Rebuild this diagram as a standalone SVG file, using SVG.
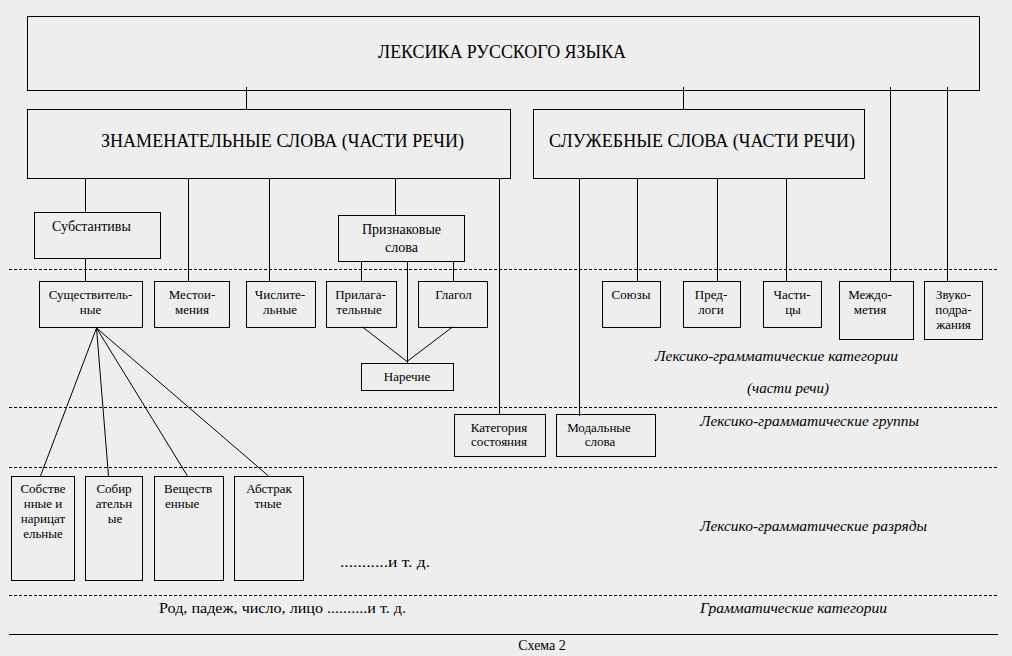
<svg xmlns="http://www.w3.org/2000/svg" width="1012" height="656" viewBox="0 0 1012 656">
<rect x="0" y="0" width="1012" height="656" fill="#eeeeee"/>

<g id="levels">
<g stroke="#000" stroke-width="1" stroke-dasharray="3,2" fill="none">
<line x1="9" y1="269.5" x2="999" y2="269.5"/>
<line x1="9" y1="407.5" x2="999" y2="407.5"/>
<line x1="9" y1="467.5" x2="999" y2="467.5"/>
<line x1="9" y1="595.5" x2="999" y2="595.5"/>
</g>
<line x1="9" y1="634.5" x2="998" y2="634.5" stroke="#000" stroke-width="1"/>
<text font-family="Liberation Serif, serif" font-size="15" font-style="italic" x="655" y="361" textLength="243" lengthAdjust="spacingAndGlyphs">Лексико-грамматические категории</text>
<text font-family="Liberation Serif, serif" font-size="15" font-style="italic" x="747" y="393" textLength="82" lengthAdjust="spacingAndGlyphs">(части речи)</text>
<text font-family="Liberation Serif, serif" font-size="15" font-style="italic" x="700" y="426" textLength="219" lengthAdjust="spacingAndGlyphs">Лексико-грамматические группы</text>
<text font-family="Liberation Serif, serif" font-size="15" font-style="italic" x="700" y="531" textLength="227" lengthAdjust="spacingAndGlyphs">Лексико-грамматические разряды</text>
<text font-family="Liberation Serif, serif" font-size="15" font-style="italic" x="700" y="613" textLength="187" lengthAdjust="spacingAndGlyphs">Грамматические категории</text>
<text font-family="Liberation Serif, serif" font-size="14" x="340" y="567" textLength="90" lengthAdjust="spacingAndGlyphs">...........и т. д.</text>
<text font-family="Liberation Serif, serif" font-size="15" x="159" y="613" textLength="247" lengthAdjust="spacingAndGlyphs">Род, падеж, число, лицо ..........и т. д.</text>
<text font-family="Liberation Serif, serif" font-size="14" x="542" y="650" text-anchor="middle">Схема 2</text>
</g>

<g id="connectors" stroke="#000" stroke-width="1" fill="none">
<line x1="246.5" y1="87" x2="246.5" y2="109"/>
<line x1="683.5" y1="87" x2="683.5" y2="109"/>
<line x1="890.5" y1="87" x2="890.5" y2="281"/>
<line x1="947.5" y1="87" x2="947.5" y2="281"/>
<line x1="85.5" y1="178" x2="85.5" y2="212"/>
<line x1="85.5" y1="258" x2="85.5" y2="281"/>
<line x1="188.5" y1="178" x2="188.5" y2="281"/>
<line x1="269.5" y1="178" x2="269.5" y2="281"/>
<line x1="395.5" y1="178" x2="395.5" y2="215"/>
<line x1="499.5" y1="178" x2="499.5" y2="414"/>
<line x1="579.5" y1="178" x2="579.5" y2="416"/>
<line x1="637.5" y1="178" x2="637.5" y2="281"/>
<line x1="717.5" y1="178" x2="717.5" y2="281"/>
<line x1="786.5" y1="178" x2="786.5" y2="281"/>
<line x1="361.5" y1="261" x2="361.5" y2="281"/>
<line x1="407.5" y1="261" x2="407.5" y2="363"/>
<line x1="453.5" y1="261" x2="453.5" y2="281"/>
<line x1="362.5" y1="327" x2="407" y2="361.5"/>
<line x1="452.5" y1="327" x2="407" y2="361.5"/>
<line x1="96.5" y1="328" x2="40.5" y2="476"/>
<line x1="96.5" y1="328" x2="108.5" y2="476"/>
<line x1="96.5" y1="328" x2="187.5" y2="476"/>
<line x1="96.5" y1="328" x2="268.5" y2="476"/>
</g>

<g id="nodes">
<g fill="none" stroke="#000" stroke-width="1">
<rect id="b-leksika" x="27.5" y="16.5" width="952" height="74"/>
<rect id="b-znam" x="27.5" y="109.5" width="483" height="69"/>
<rect id="b-sluzh" x="533.5" y="109.5" width="331" height="69"/>
<rect id="b-subst" x="34.5" y="212.5" width="126" height="46"/>
<rect id="b-priznak" x="338.5" y="215.5" width="126" height="46"/>
<rect id="b-sushch" x="39.5" y="281.5" width="103" height="46"/>
<rect id="b-mest" x="154.5" y="281.5" width="75" height="46"/>
<rect id="b-chisl" x="246.5" y="281.5" width="69" height="46"/>
<rect id="b-prilag" x="326.5" y="281.5" width="70" height="46"/>
<rect id="b-glagol" x="418.5" y="281.5" width="69" height="46"/>
<rect id="b-narech" x="361.5" y="363.5" width="92" height="27"/>
<rect id="b-soyuzy" x="602.5" y="281.5" width="58" height="46"/>
<rect id="b-predlogi" x="683.5" y="281.5" width="57" height="46"/>
<rect id="b-chastitsy" x="763.5" y="281.5" width="58" height="46"/>
<rect id="b-mezhd" x="839.5" y="281.5" width="74" height="58"/>
<rect id="b-zvuk" x="924.5" y="281.5" width="58" height="58"/>
<rect id="b-katsost" x="454.5" y="414.5" width="91" height="42"/>
<rect id="b-modal" x="556.5" y="414.5" width="99" height="42"/>
<rect id="b-sobstv" x="11.5" y="476.5" width="63" height="104"/>
<rect id="b-sobir" x="85.5" y="476.5" width="57" height="104"/>
<rect id="b-veshch" x="154.5" y="476.5" width="69" height="104"/>
<rect id="b-abstr" x="234.5" y="476.5" width="69" height="104"/>
</g>
<g id="n-leksika">
<text font-family="Liberation Serif, serif" font-size="18" x="378" y="58" textLength="248" lengthAdjust="spacingAndGlyphs">ЛЕКСИКА РУССКОГО ЯЗЫКА</text>
</g>
<g id="n-znam">
<text font-family="Liberation Serif, serif" font-size="19" x="101" y="147" textLength="363" lengthAdjust="spacingAndGlyphs">ЗНАМЕНАТЕЛЬНЫЕ СЛОВА (ЧАСТИ РЕЧИ)</text>
</g>
<g id="n-sluzh">
<text font-family="Liberation Serif, serif" font-size="19" x="549" y="147" textLength="306" lengthAdjust="spacingAndGlyphs">СЛУЖЕБНЫЕ СЛОВА (ЧАСТИ РЕЧИ)</text>
</g>
<g id="n-subst">
<text font-family="Liberation Serif, serif" font-size="14" text-anchor="middle" x="91.5" y="231">Субстантивы</text>
</g>
<g id="n-priznak">
<text font-family="Liberation Serif, serif" font-size="14" text-anchor="middle" x="401.5" y="234">Признаковые</text>
<text font-family="Liberation Serif, serif" font-size="14" text-anchor="middle" x="401.5" y="252">слова</text>
</g>
<g id="n-sushch">
<text font-family="Liberation Serif, serif" font-size="13" text-anchor="middle" x="90.5" y="299">Существитель-</text>
<text font-family="Liberation Serif, serif" font-size="13" text-anchor="middle" x="90.5" y="314">ные</text>
</g>
<g id="n-mest">
<text font-family="Liberation Serif, serif" font-size="13" text-anchor="middle" x="192" y="299">Местои-</text>
<text font-family="Liberation Serif, serif" font-size="13" text-anchor="middle" x="192" y="314">мения</text>
</g>
<g id="n-chisl">
<text font-family="Liberation Serif, serif" font-size="13" text-anchor="middle" x="280" y="299">Числите-</text>
<text font-family="Liberation Serif, serif" font-size="13" text-anchor="middle" x="280" y="314">льные</text>
</g>
<g id="n-prilag">
<text font-family="Liberation Serif, serif" font-size="13" text-anchor="middle" x="360.5" y="299">Прилага-</text>
<text font-family="Liberation Serif, serif" font-size="13" text-anchor="middle" x="359" y="314">тельные</text>
</g>
<g id="n-glagol">
<text font-family="Liberation Serif, serif" font-size="13" text-anchor="middle" x="453.5" y="299">Глагол</text>
</g>
<g id="n-narech">
<text font-family="Liberation Serif, serif" font-size="13" text-anchor="middle" x="407" y="381">Наречие</text>
</g>
<g id="n-soyuzy">
<text font-family="Liberation Serif, serif" font-size="13" text-anchor="middle" x="631" y="299">Союзы</text>
</g>
<g id="n-predlogi">
<text font-family="Liberation Serif, serif" font-size="13" text-anchor="middle" x="711" y="299">Пред-</text>
<text font-family="Liberation Serif, serif" font-size="13" text-anchor="middle" x="711" y="314">логи</text>
</g>
<g id="n-chastitsy">
<text font-family="Liberation Serif, serif" font-size="13" text-anchor="middle" x="792" y="299">Части-</text>
<text font-family="Liberation Serif, serif" font-size="13" text-anchor="middle" x="793" y="314">цы</text>
</g>
<g id="n-mezhd">
<text font-family="Liberation Serif, serif" font-size="13" text-anchor="middle" x="870" y="299">Междо-</text>
<text font-family="Liberation Serif, serif" font-size="13" text-anchor="middle" x="870" y="314">метия</text>
</g>
<g id="n-zvuk">
<text font-family="Liberation Serif, serif" font-size="13" text-anchor="middle" x="953.5" y="299">Звуко-</text>
<text font-family="Liberation Serif, serif" font-size="13" text-anchor="middle" x="953.5" y="314">подра-</text>
<text font-family="Liberation Serif, serif" font-size="13" text-anchor="middle" x="953.5" y="329">жания</text>
</g>
<g id="n-katsost">
<text font-family="Liberation Serif, serif" font-size="13" text-anchor="middle" x="499" y="432">Категория</text>
<text font-family="Liberation Serif, serif" font-size="13" text-anchor="middle" x="499" y="446">состояния</text>
</g>
<g id="n-modal">
<text font-family="Liberation Serif, serif" font-size="13" text-anchor="middle" x="599" y="432">Модальные</text>
<text font-family="Liberation Serif, serif" font-size="13" text-anchor="middle" x="600" y="446">слова</text>
</g>
<g id="n-sobstv">
<text font-family="Liberation Serif, serif" font-size="13" text-anchor="middle" x="43" y="493">Собстве</text>
<text font-family="Liberation Serif, serif" font-size="13" text-anchor="middle" x="43" y="508">нные и</text>
<text font-family="Liberation Serif, serif" font-size="13" text-anchor="middle" x="43" y="523">нарицат</text>
<text font-family="Liberation Serif, serif" font-size="13" text-anchor="middle" x="43" y="538">ельные</text>
</g>
<g id="n-sobir">
<text font-family="Liberation Serif, serif" font-size="13" text-anchor="middle" x="114" y="493">Собир</text>
<text font-family="Liberation Serif, serif" font-size="13" text-anchor="middle" x="114" y="508">ательн</text>
<text font-family="Liberation Serif, serif" font-size="13" text-anchor="middle" x="115" y="523">ые</text>
</g>
<g id="n-veshch">
<text font-family="Liberation Serif, serif" font-size="13" x="164" y="493">Веществ</text>
<text font-family="Liberation Serif, serif" font-size="13" x="165" y="508">енные</text>
</g>
<g id="n-abstr">
<text font-family="Liberation Serif, serif" font-size="13" text-anchor="middle" x="269" y="493">Абстрак</text>
<text font-family="Liberation Serif, serif" font-size="13" text-anchor="middle" x="268" y="508">тные</text>
</g>
</g>
</svg>
